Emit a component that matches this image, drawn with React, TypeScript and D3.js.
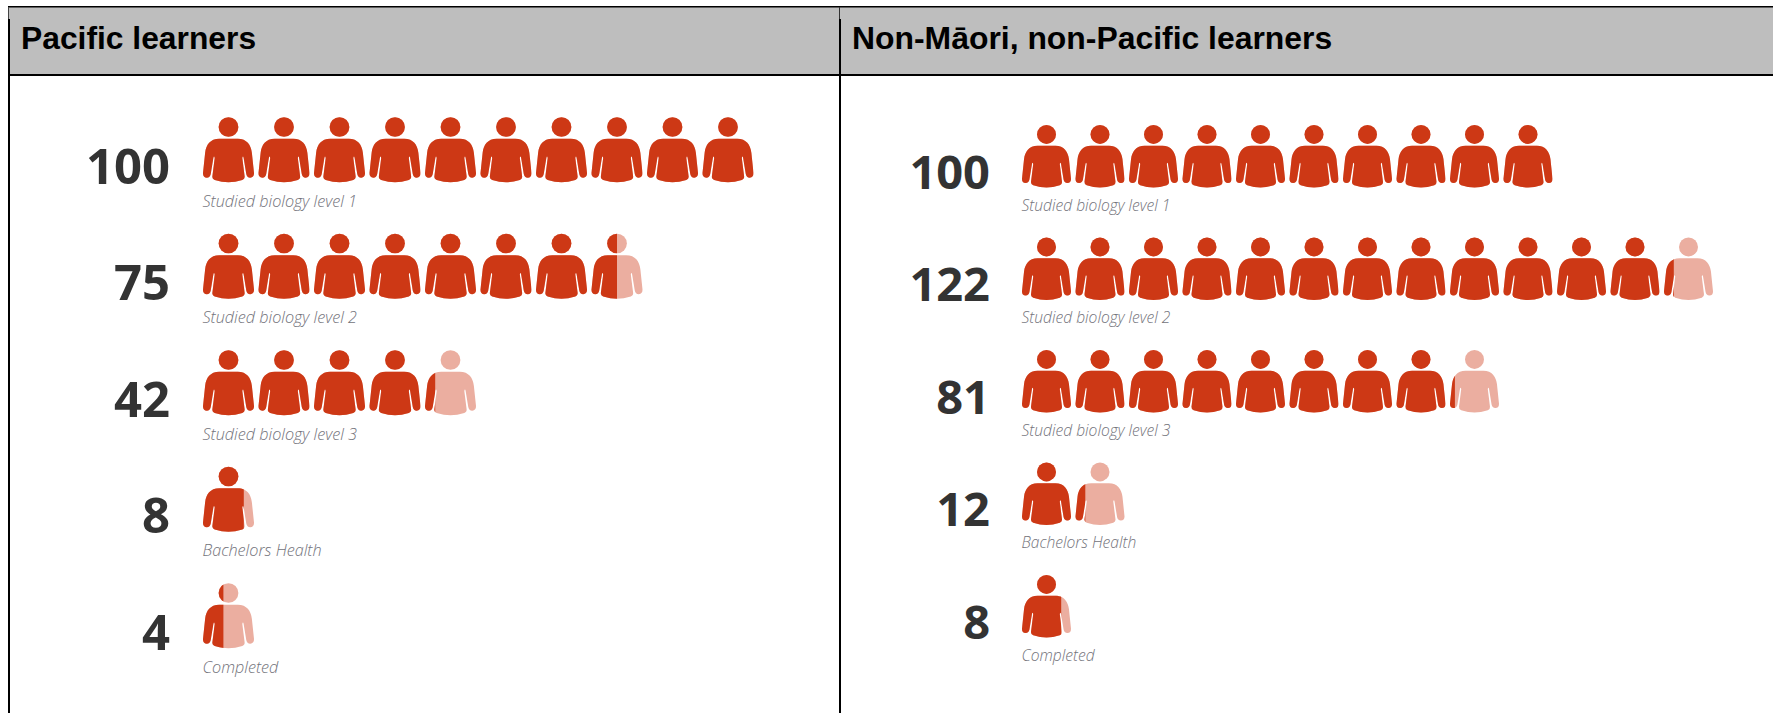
import React from 'react'
import * as d3 from 'd3'

const categoriesLeft = ['Studied biology level 1', 'Studied biology level 2', 'Studied biology level 3', 'Bachelors Health', 'Completed']
const categoriesRight = ['Studied biology level 1', 'Studied biology level 2', 'Studied biology level 3', 'Bachelors Health', 'Completed']
const pacificValues = [100, 75, 42, 8, 4]
const otherValues = [100, 122, 81, 12, 8]
const perIcon = 10

const DARK = '#cd3815'
const LIGHT = '#ebaea0'

// person shape, head centre at 0,0, icon half width about 77
const bodyPath = 'M0,36 L28,36 C56,36 68,55 71,78 L77.5,140 Q78,153 66,154 Q56,154 54,143 L46,94 Q44,86 42,94 L49,150 Q50,158 42,161 Q20,168 0,168 Q-20,168 -42,161 Q-50,158 -49,150 L-42,94 Q-44,86 -46,94 L-54,143 Q-56,154 -66,154 Q-78,153 -77.5,140 L-71,78 C-68,55 -56,36 -28,36 Z'
const headR = 30
const iconHalf = 77.5

const Person = ({ id, cx, cy, width, frac }: { id: string; cx: number; cy: number; width: number; frac: number }) => {
    const k = width / (iconHalf * 2)
    const cut = -iconHalf + frac * iconHalf * 2
    return (
        <g transform={`translate(${cx},${cy}) scale(${k})`}>
            <clipPath id={id}>
                <rect x={-100} y={-40} width={cut + 100} height={220} />
            </clipPath>
            <g fill={LIGHT}>
                <circle r={headR} />
                <path d={bodyPath} />
            </g>
            <g fill={DARK} clipPath={`url(#${id})`}>
                <circle r={headR} />
                <path d={bodyPath} />
            </g>
        </g>
    )
}

type PanelProps = {
    name: string
    categories: string[]
    values: number[]
    iconLeft: number
    pitch: number
    iconW: number
    headTop: number
    headStep: number
    numRight: number
    numDy: number
    numSize: number
    labelDy: number
    labelSize: number
}

const Panel = ({ name, categories, values, iconLeft, pitch, iconW, headTop, headStep, numRight, numDy, numSize, labelDy, labelSize }: PanelProps) => {
    const x = d3.scaleLinear().domain([0, 1]).range([iconLeft, iconLeft + pitch])
    const y = d3.scalePoint<string>().domain(d3.range(values.length).map(String)).range([headTop, headTop + headStep * (values.length - 1)])
    return (
        <g>
            {values.map((v, r) => {
                const yy = y(String(r)) as number
                const n = Math.ceil(v / perIcon)
                return (
                    <g key={r}>
                        <text x={numRight} y={yy + numDy} textAnchor='end' fontFamily='"Open Sans"' fontWeight={700} fontSize={numSize} fill='#333333'>{v}</text>
                        {d3.range(n).map((i) => (
                            <Person key={i} id={`${name}-${r}-${i}`} cx={x(i) + iconW / 2} cy={yy} width={iconW}
                                frac={Math.min(1, v / perIcon - i)} />
                        ))}
                        <text x={iconLeft - 0.5} y={yy + labelDy} fontFamily='"Open Sans"' fontWeight={300} fontStyle='italic' fontSize={labelSize} fill='#72727a'>{categories[r]}</text>
                    </g>
                )
            })}
        </g>
    )
}

const App = () => {
    return (
        <svg width={1773} height={713} style={{ position: 'absolute', left: 0, top: 0, background: '#fff' }}>
            <rect x={9} y={7} width={1764} height={68} fill='#bebebe' />
            <rect x={8} y={6} width={1765} height={1.5} fill='#000' />
            <rect x={8} y={74} width={1765} height={2} fill='#000' />
            <rect x={8} y={7} width={1} height={12} fill='#444' />
            <rect x={8} y={19} width={2} height={694} fill='#000' />
            <rect x={839} y={7} width={1} height={12} fill='#333' />
            <rect x={839} y={19} width={2} height={694} fill='#000' />
            <text x={21} y={49} fontFamily='"Liberation Sans"' fontWeight={700} fontSize={31.8} fill='#000'>Pacific learners</text>
            <text x={852} y={49} fontFamily='"Liberation Sans"' fontWeight={700} fontSize={31.9} fill='#000'>Non-Māori, non-Pacific learners</text>
            <Panel name='pacific' categories={categoriesLeft} values={pacificValues} iconLeft={203} pitch={55.5} iconW={51}
                headTop={127} headStep={116.5} numRight={170} numDy={56.5} numSize={49} labelDy={79.5} labelSize={16.2} />
            <Panel name='other' categories={categoriesRight} values={otherValues} iconLeft={1022} pitch={53.5} iconW={49}
                headTop={134.4} headStep={112.5} numRight={990} numDy={54.5} numSize={47} labelDy={76.5} labelSize={15.6} />
        </svg>
    )
}

export default App
